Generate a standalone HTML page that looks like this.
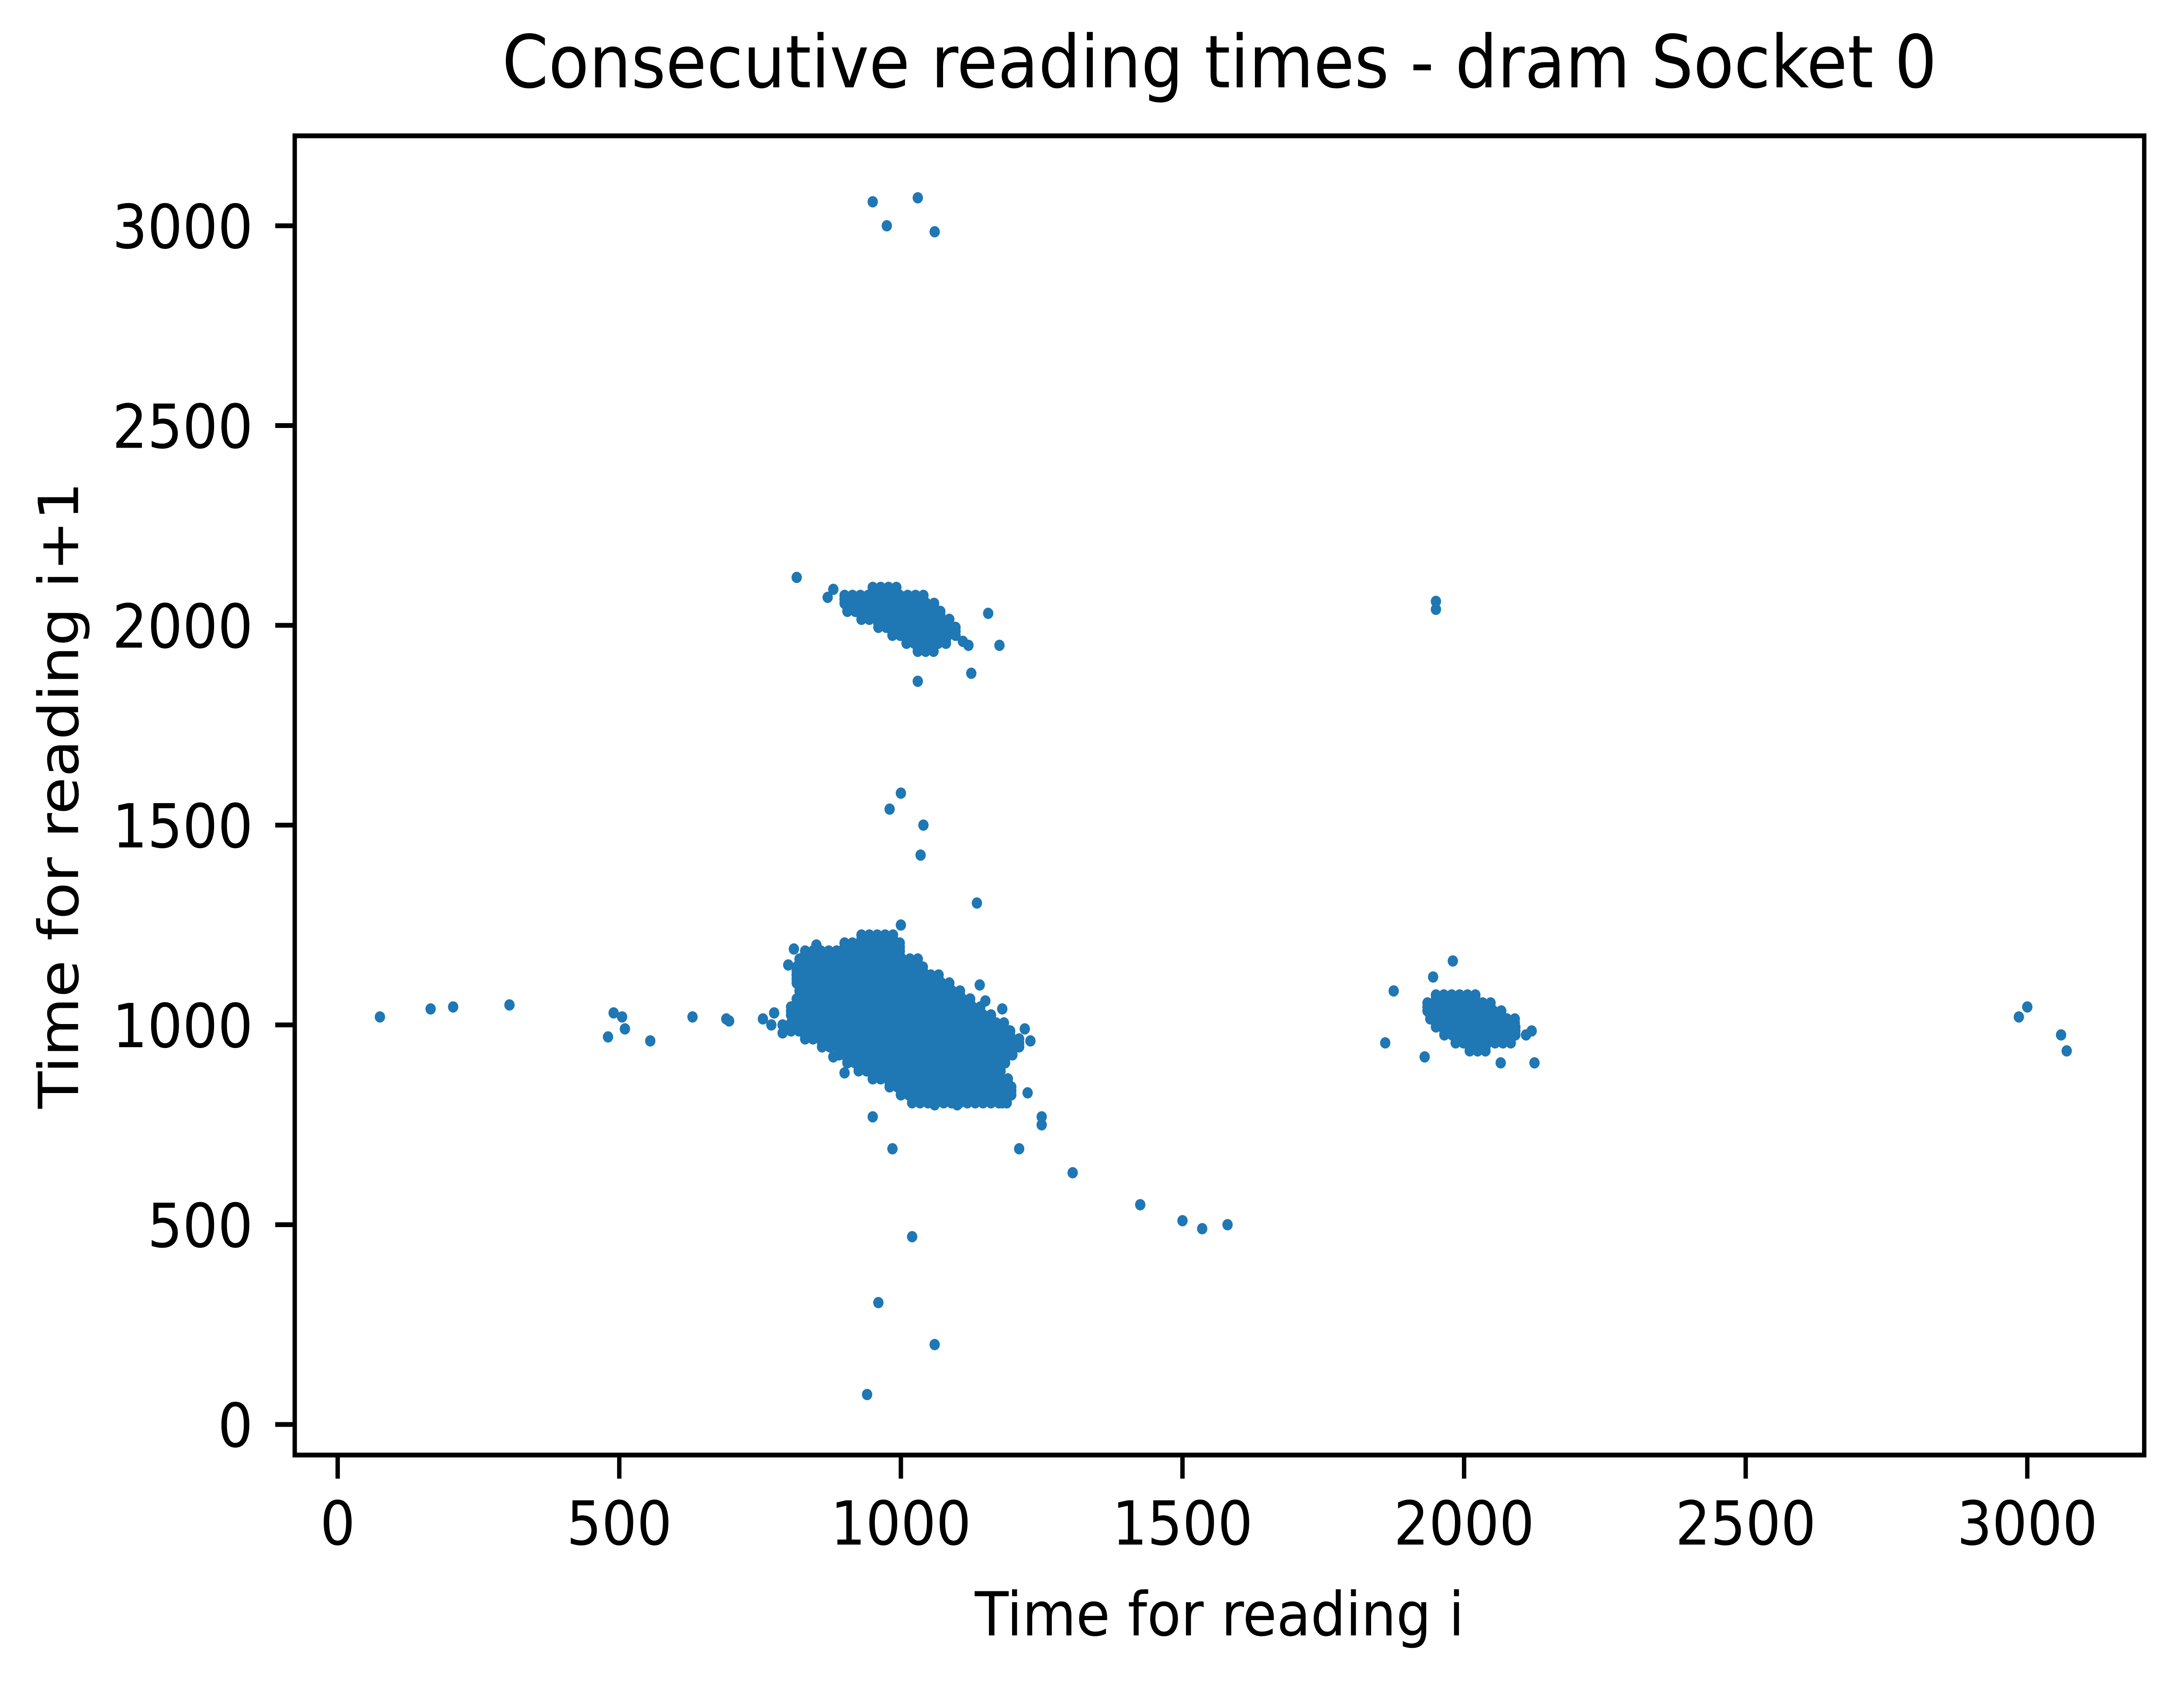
<!DOCTYPE html>
<html><head><meta charset="utf-8"><style>
html,body{margin:0;padding:0;background:#fff;overflow:hidden;}
svg{display:block;width:100vw;height:100vh;font-family:"DejaVu Sans","Liberation Sans",sans-serif;}
</style></head><body>
<svg id="chart" viewBox="0 0 5491 3854" preserveAspectRatio="none" xmlns="http://www.w3.org/2000/svg">
<rect x="0" y="0" width="5491" height="3854" fill="#fff"/>
<text x="3066" y="200" font-size="167" text-anchor="middle">Consecutive reading times - dram Socket 0</text>
<g id="points"></g>
<rect x="741" y="311" width="4650" height="3021" fill="none" stroke="#000" stroke-width="11"/>
<g id="xticks"></g>
<g id="yticks"></g>
<text x="3066" y="3745" font-size="139" text-anchor="middle">Time for reading i</text>
<text transform="translate(158,1821) rotate(-90)" font-size="139" text-anchor="middle" dominant-baseline="middle">Time for reading i+1</text>
</svg>
<script>
const xTicks = [0, 500, 1000, 1500, 2000, 2500, 3000];
const yTicks = [0, 500, 1000, 1500, 2000, 2500, 3000];
// dense cluster rows: y value, x start, x end
const rowY     = [1215,1195,1175,1155,1135,1115,1095,1075,1055,1035,1015,995,975,955,935,915,895,875,855,835,815, 2085,2065,2045,2025,2005,1985,1965,1945, 1065,1045,1025,1005,985,965,945];
const rowXFrom = [ 930, 900, 830, 820, 815, 815, 820, 825, 815, 805, 810, 805,830,860,890,905,925,950,980,1000,1020, 950, 900, 905, 930, 960, 985,1010,1030, 1950,1935,1940,1950,1965,1985,2010];
const rowXTo   = [ 990,1010,1010,1030,1050,1070,1090,1110,1130,1150,1170,1185,1200,1210,1205,1195,1185,1175,1190,1200,1200, 1000,1040,1060,1075,1090,1100,1090,1070, 2030,2055,2075,2090,2100,2090,2050];
// isolated points
const outX = [75,165,205,305,480,490,505,510,555,630,690,695,755,775,790, 950,975,1030,1060, 815,1155,1175,1125,1030, 1950,1950, 1000,980,1040,1035,1135, 950,985,1210,1250,1250,1305,1425,1500,1535,1580,1020,960,1060,940, 1860,1875,2125,2065,1980, 2985,3000,3060,3070,
  1000,960,1150,1180,1220,1230,1225,1180,1060,1100,800,810,850,770,790,1140,880,900, 880,870,1110,1120, 1930,1945,2110,2120];
const outY = [1020,1040,1045,1050,970,1030,1020,990,960,1020,1015,1010,1015,1030,1000, 3060,3000,3070,2985, 2120,2030,1950,1880,1860, 2060,2040, 1580,1540,1500,1425,1305, 770,690,690,750,770,630,550,510,490,500,470,305,200,75, 955,1085,905,905,1160, 1020,1045,975,935,
  1250,1205,1060,1040,990,960,830,805,800,800,1150,1190,1200,1000,980,1100,920,880, 2090,2070,1960,1950, 920,1120,975,985];

const NS = 'http://www.w3.org/2000/svg';
const X0 = 849, SX = 1.416, Y0 = 3262, SY = 0.915;
function px(v){ return X0 + v*SX; }
function py(v){ return Y0 - v*SY; }
const pts = document.getElementById('points');
function dot(x,y){
  const c = document.createElementNS(NS,'circle');
  c.setAttribute('cx', px(x)); c.setAttribute('cy', py(y)); c.setAttribute('r', 13);
  c.setAttribute('fill', '#1f77b4');
  
  
  pts.appendChild(c);
}
for (let i=0;i<rowY.length;i++){
  for (let yy=rowY[i]-10; yy<=rowY[i]+10; yy+=10){
    for (let xx=rowXFrom[i]; xx<=rowXTo[i]; xx+=14) dot(xx, yy);
  }
}
for (let i=0;i<outX.length;i++) dot(outX[i], outY[i]);

const xg = document.getElementById('xticks');
xTicks.forEach(t=>{
  const l = document.createElementNS(NS,'line');
  l.setAttribute('x1',px(t)); l.setAttribute('x2',px(t)); l.setAttribute('y1',3337); l.setAttribute('y2',3386);
  l.setAttribute('stroke','#000'); l.setAttribute('stroke-width',11);
  
  
  xg.appendChild(l);
  const s = document.createElementNS(NS,'text');
  s.setAttribute('x',px(t)); s.setAttribute('y',3537); s.setAttribute('font-size',139); s.setAttribute('text-anchor','middle');
  
  
  s.textContent = t; xg.appendChild(s);
});
const yg = document.getElementById('yticks');
yTicks.forEach(t=>{
  const l = document.createElementNS(NS,'line');
  l.setAttribute('y1',py(t)); l.setAttribute('y2',py(t)); l.setAttribute('x1',692); l.setAttribute('x2',741);
  l.setAttribute('stroke','#000'); l.setAttribute('stroke-width',11);
  
  
  yg.appendChild(l);
  const s = document.createElementNS(NS,'text');
  s.setAttribute('x',636); s.setAttribute('y',py(t)+51); s.setAttribute('font-size',139); s.setAttribute('text-anchor','end');
  
  
  s.textContent = t; yg.appendChild(s);
});
</script>
</body></html>
